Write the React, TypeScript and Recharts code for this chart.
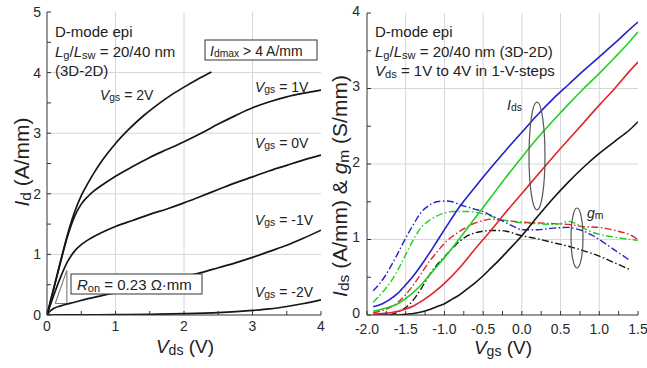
import React from 'react';
import { LineChart, Line, XAxis, YAxis, ReferenceLine } from 'recharts';

const FONT = '"Liberation Sans", Arial, Helvetica, sans-serif';
const INK = '#222';
const GRID = '#d6d6d6';

// ---------- Left panel: Id vs Vds ----------
const vdsTicks = [0, 0.5, 1, 1.5, 2, 2.5, 3, 3.5, 4];
const vdsGrid = [1, 2, 3];
const idTicks = [0, 0.5, 1, 1.5, 2, 2.5, 3, 3.5, 4, 4.5, 5];
const idGrid = [1, 2, 3, 4];

const idVgs2: [number, number][] = [
  [0, 0], [0.1, 0.45], [0.2, 0.9], [0.3, 1.33], [0.4, 1.69], [0.5, 1.97], [0.6, 2.18], [0.7, 2.37],
  [0.8, 2.54], [1.0, 2.83], [1.2, 3.07], [1.4, 3.28], [1.6, 3.46], [1.8, 3.62], [2.0, 3.76], [2.2, 3.89], [2.4, 4.01],
];
const idVgs1: [number, number][] = [
  [0, 0], [0.1, 0.44], [0.2, 0.88], [0.3, 1.3], [0.4, 1.62], [0.5, 1.83], [0.6, 1.96], [0.7, 2.06], [0.8, 2.14],
  [1.0, 2.29], [1.25, 2.45], [1.5, 2.6], [1.75, 2.73], [2.0, 2.86], [2.25, 3.0], [2.5, 3.15], [2.75, 3.29],
  [3.0, 3.42], [3.25, 3.52], [3.5, 3.6], [3.75, 3.66], [4.0, 3.71],
];
const idVgs0: [number, number][] = [
  [0, 0], [0.1, 0.33], [0.2, 0.63], [0.3, 0.88], [0.4, 1.05], [0.5, 1.16], [0.6, 1.24], [0.8, 1.36],
  [1.0, 1.46], [1.25, 1.56], [1.5, 1.66], [1.75, 1.75], [2.0, 1.85], [2.25, 1.96], [2.5, 2.07], [2.75, 2.18],
  [3.0, 2.28], [3.25, 2.38], [3.5, 2.47], [3.75, 2.56], [4.0, 2.64],
];
const idVgsM1: [number, number][] = [
  [0, 0], [0.05, 0.07], [0.1, 0.11], [0.2, 0.15], [0.4, 0.21], [0.6, 0.27], [0.8, 0.32], [1.0, 0.37],
  [1.25, 0.43], [1.5, 0.49], [1.75, 0.56], [2.0, 0.63], [2.25, 0.7], [2.5, 0.78], [2.75, 0.86], [3.0, 0.95],
  [3.25, 1.05], [3.5, 1.15], [3.75, 1.27], [4.0, 1.4],
];
const idVgsM2: [number, number][] = [
  [0, 0], [0.5, 0.003], [1, 0.006], [1.5, 0.012], [2, 0.022], [2.5, 0.04], [3, 0.075], [3.25, 0.1],
  [3.5, 0.14], [3.75, 0.19], [4, 0.25],
];
const ronTriangle: [number, number][] = [[0.12, 0.19], [0.29, 0.74], [0.29, 0.19], [0.12, 0.19]];

// ---------- Right panel: Ids & gm vs Vgs ----------
const vgsTicks = [-2, -1.75, -1.5, -1.25, -1, -0.75, -0.5, -0.25, 0, 0.25, 0.5, 0.75, 1, 1.25, 1.5];
const vgsGrid = [-1.5, -1, -0.5, 0, 0.5, 1];
const idsTicks = [0, 0.5, 1, 1.5, 2, 2.5, 3, 3.5, 4];
const idsGrid = [1, 2, 3];

const idsVds1: [number, number][] = [
  [-1.92, 0], [-1.7, 0], [-1.6, 0.0], [-1.5, 0.01], [-1.4, 0.02], [-1.3, 0.04], [-1.2, 0.07], [-1.1, 0.11],
  [-1.0, 0.15], [-0.9, 0.21], [-0.8, 0.27], [-0.7, 0.35], [-0.6, 0.43], [-0.5, 0.52], [-0.4, 0.62], [-0.3, 0.72],
  [-0.2, 0.83], [0, 1.05], [0.2, 1.3], [0.4, 1.54], [0.6, 1.76], [0.8, 1.96], [1.0, 2.14], [1.2, 2.3],
  [1.4, 2.46], [1.5, 2.56],
];
const idsVds2: [number, number][] = [
  [-1.92, 0.01], [-1.8, 0.02], [-1.7, 0.03], [-1.6, 0.05], [-1.5, 0.08], [-1.4, 0.12], [-1.3, 0.18],
  [-1.2, 0.25], [-1.1, 0.33], [-1.0, 0.42], [-0.8, 0.63], [-0.6, 0.88], [-0.4, 1.12], [-0.2, 1.37], [0, 1.61],
  [0.2, 1.85], [0.4, 2.09], [0.6, 2.32], [0.8, 2.55], [1.0, 2.78], [1.2, 3.0], [1.4, 3.24], [1.5, 3.35],
];
const idsVds3: [number, number][] = [
  [-1.92, 0.05], [-1.8, 0.08], [-1.7, 0.11], [-1.6, 0.15], [-1.5, 0.22], [-1.4, 0.3], [-1.3, 0.4],
  [-1.2, 0.52], [-1.1, 0.64], [-1.0, 0.76], [-0.8, 1.02], [-0.6, 1.29], [-0.4, 1.56], [-0.2, 1.83], [0, 2.09],
  [0.2, 2.34], [0.4, 2.57], [0.6, 2.79], [0.8, 3.0], [1.0, 3.2], [1.2, 3.41], [1.4, 3.63], [1.5, 3.75],
];
const idsVds4: [number, number][] = [
  [-1.92, 0.11], [-1.8, 0.15], [-1.7, 0.21], [-1.6, 0.29], [-1.5, 0.4], [-1.4, 0.52], [-1.3, 0.66],
  [-1.2, 0.81], [-1.1, 0.97], [-1.0, 1.13], [-0.8, 1.44], [-0.6, 1.7], [-0.4, 1.95], [-0.2, 2.19], [0, 2.42],
  [0.2, 2.65], [0.4, 2.86], [0.6, 3.05], [0.8, 3.24], [1.0, 3.42], [1.2, 3.6], [1.4, 3.79], [1.5, 3.88],
];
const gmVds1: [number, number][] = [
  [-1.7, 0.0], [-1.6, 0.04], [-1.5, 0.1], [-1.4, 0.2], [-1.3, 0.35], [-1.2, 0.52], [-1.1, 0.66], [-1.0, 0.77],
  [-0.9, 0.88], [-0.8, 0.98], [-0.7, 1.05], [-0.6, 1.09], [-0.5, 1.11], [-0.4, 1.12], [-0.3, 1.12], [-0.2, 1.11],
  [-0.1, 1.08], [0, 1.05], [0.2, 1.01], [0.4, 0.96], [0.6, 0.91], [0.8, 0.85], [1.0, 0.78], [1.2, 0.69], [1.4, 0.6],
];
const gmVds2: [number, number][] = [
  [-1.92, 0.03], [-1.8, 0.06], [-1.7, 0.1], [-1.6, 0.17], [-1.5, 0.27], [-1.4, 0.4], [-1.3, 0.55], [-1.2, 0.7],
  [-1.1, 0.83], [-1.0, 0.95], [-0.9, 1.04], [-0.8, 1.11], [-0.7, 1.17], [-0.6, 1.22], [-0.5, 1.25], [-0.4, 1.27],
  [-0.3, 1.26], [-0.2, 1.25], [0, 1.23], [0.2, 1.22], [0.4, 1.21], [0.6, 1.2], [0.8, 1.17], [1.0, 1.16],
  [1.2, 1.12], [1.4, 1.06], [1.5, 1.0],
];
const gmVds3: [number, number][] = [
  [-1.92, 0.17], [-1.8, 0.3], [-1.7, 0.43], [-1.6, 0.6], [-1.5, 0.8], [-1.4, 1.0], [-1.3, 1.16], [-1.2, 1.25],
  [-1.1, 1.31], [-1.0, 1.35], [-0.9, 1.37], [-0.8, 1.37], [-0.7, 1.37], [-0.6, 1.36], [-0.5, 1.34], [-0.4, 1.31],
  [-0.3, 1.27], [-0.2, 1.25], [0, 1.22], [0.2, 1.21], [0.4, 1.2], [0.5, 1.21], [0.6, 1.24], [0.7, 1.21],
  [0.8, 1.15], [0.9, 1.1], [1.0, 1.07], [1.2, 1.03], [1.4, 1.0], [1.5, 0.99],
];
const gmVds4: [number, number][] = [
  [-1.92, 0.32], [-1.85, 0.4], [-1.77, 0.51], [-1.7, 0.63], [-1.6, 0.82], [-1.5, 1.02], [-1.4, 1.2],
  [-1.3, 1.36], [-1.2, 1.45], [-1.1, 1.5], [-1.0, 1.51], [-0.9, 1.5], [-0.8, 1.46], [-0.7, 1.43], [-0.6, 1.4],
  [-0.5, 1.37], [-0.4, 1.32], [-0.3, 1.27], [-0.2, 1.22], [-0.1, 1.17], [0, 1.13], [0.2, 1.13], [0.4, 1.15],
  [0.6, 1.16], [0.7, 1.14], [0.8, 1.11], [0.9, 1.06], [1.0, 1.0], [1.1, 0.93], [1.2, 0.86], [1.3, 0.79], [1.4, 0.72],
];

const BLACK = '#151515';
const RED = '#e2222a';
const GREEN = '#22d022';
const BLUE = '#2323c8';
const DASHDOT = '7 2.5 1.5 2.5';

const toXY = (arr: [number, number][]) => arr.map(([x, y]) => ({ x, y }));

const tickStyle = { fill: '#2a2a2a', fontSize: 14, fontFamily: FONT };
const axisStroke = { stroke: '#333', strokeWidth: 1 };

const fmtInt = (v: number) => (Math.abs(v - Math.round(v)) < 1e-6 ? String(Math.round(v)) : '');
const fmtHalf = (v: number) =>
  Math.abs(v * 2 - Math.round(v * 2)) < 1e-6 ? (Math.abs(v) < 1e-9 ? '0.0' : v.toFixed(1)) : '';

type Seg = [string, 'i' | 's' | 'n'];
function Rich({ x, y, size, segs, anchor = 'start', rot = false }: {
  x: number; y: number; size: number; segs: Seg[]; anchor?: 'start' | 'middle' | 'end'; rot?: boolean;
}) {
  const off = size * 0.1;
  let prevSub = false;
  return (
    <text
      x={x}
      y={y}
      fontSize={size}
      fontFamily={FONT}
      fill={INK}
      textAnchor={anchor}
      style={{ whiteSpace: 'pre' }}
      transform={rot ? `rotate(-90 ${x} ${y})` : undefined}
    >
      {segs.map(([t, k], idx) => {
        const sub = k === 's';
        const dy = (sub ? off : 0) - (prevSub ? off : 0);
        prevSub = sub;
        return (
          <tspan key={idx} fontStyle={k === 'i' ? 'italic' : 'normal'} fontSize={sub ? size * 0.74 : size} dy={dy}>
            {t}
          </tspan>
        );
      })}
    </text>
  );
}

function LeftChart() {
  const series: { d: [number, number][]; k: string }[] = [
    { d: idVgs2, k: 'v2' }, { d: idVgs1, k: 'v1' }, { d: idVgs0, k: 'v0' }, { d: idVgsM1, k: 'vm1' }, { d: idVgsM2, k: 'vm2' },
  ];
  return (
    <LineChart width={330} height={368} margin={{ top: 12, right: 9, bottom: 0, left: 0 }}>
      <XAxis xAxisId="b" orientation="bottom" type="number" dataKey="x" domain={[0, 4]} ticks={vdsTicks}
        interval={0} allowDataOverflow height={53} tickSize={-4} tickMargin={10} tickFormatter={fmtInt}
        axisLine={axisStroke} tickLine={axisStroke} tick={tickStyle} />
      <XAxis xAxisId="t" orientation="top" type="number" dataKey="x" domain={[0, 4]} ticks={vdsTicks}
        interval={0} allowDataOverflow height={0} tickSize={-4} tick={false}
        axisLine={axisStroke} tickLine={axisStroke} />
      <YAxis yAxisId="l" orientation="left" type="number" domain={[0, 5]} ticks={idTicks} interval={0}
        allowDataOverflow width={47} tickSize={-4} tickMargin={10} tickFormatter={fmtInt}
        axisLine={axisStroke} tickLine={axisStroke} tick={tickStyle} />
      <YAxis yAxisId="r" orientation="right" type="number" domain={[0, 5]} ticks={idTicks} interval={0}
        allowDataOverflow width={0} tickSize={-4} tick={false} axisLine={axisStroke} tickLine={axisStroke} />
      {vdsGrid.map((v) => (
        <ReferenceLine key={'gx' + v} xAxisId="b" yAxisId="l" x={v} stroke={GRID} strokeWidth={1} />
      ))}
      {idGrid.map((v) => (
        <ReferenceLine key={'gy' + v} xAxisId="b" yAxisId="l" y={v} stroke={GRID} strokeWidth={1} />
      ))}
      <Line xAxisId="b" yAxisId="l" data={toXY(ronTriangle)} dataKey="y" type="linear" dot={false}
        stroke="#7a7a7a" strokeWidth={1.1} isAnimationActive={false} />
      {series.map((s) => (
        <Line key={s.k} xAxisId="b" yAxisId="l" data={toXY(s.d)} dataKey="y" type="monotone" dot={false}
          stroke={BLACK} strokeWidth={1.7} isAnimationActive={false} />
      ))}
    </LineChart>
  );
}

function RightChart() {
  const ids = [
    { d: idsVds1, c: BLACK }, { d: idsVds2, c: RED }, { d: idsVds3, c: GREEN }, { d: idsVds4, c: BLUE },
  ];
  const gms = [
    { d: gmVds1, c: BLACK }, { d: gmVds2, c: RED }, { d: gmVds3, c: GREEN }, { d: gmVds4, c: BLUE },
  ];
  return (
    <LineChart width={327} height={368} margin={{ top: 13, right: 9, bottom: 0, left: 0 }}>
      <XAxis xAxisId="b" orientation="bottom" type="number" dataKey="x" domain={[-2, 1.5]} ticks={vgsTicks}
        interval={0} allowDataOverflow height={53} tickSize={-4} tickMargin={13} tickFormatter={fmtHalf}
        axisLine={axisStroke} tickLine={axisStroke} tick={tickStyle} />
      <XAxis xAxisId="t" orientation="top" type="number" dataKey="x" domain={[-2, 1.5]} ticks={vgsTicks}
        interval={0} allowDataOverflow height={0} tickSize={-4} tick={false}
        axisLine={axisStroke} tickLine={axisStroke} />
      <YAxis yAxisId="l" orientation="left" type="number" domain={[0, 4]} ticks={idsTicks} interval={0}
        allowDataOverflow width={47} tickSize={-4} tickMargin={11} tickFormatter={fmtInt}
        axisLine={axisStroke} tickLine={axisStroke} tick={{ ...tickStyle, dy: -2 }} />
      <YAxis yAxisId="r" orientation="right" type="number" domain={[0, 4]} ticks={idsTicks} interval={0}
        allowDataOverflow width={0} tickSize={-4} tick={false} axisLine={axisStroke} tickLine={axisStroke} />
      {vgsGrid.map((v) => (
        <ReferenceLine key={'gx' + v} xAxisId="b" yAxisId="l" x={v} stroke={GRID} strokeWidth={1} />
      ))}
      {idsGrid.map((v) => (
        <ReferenceLine key={'gy' + v} xAxisId="b" yAxisId="l" y={v} stroke={GRID} strokeWidth={1} />
      ))}
      {gms.map((s, i) => (
        <Line key={'gm' + i} xAxisId="b" yAxisId="l" data={toXY(s.d)} dataKey="y" type="monotone" dot={false}
          stroke={s.c} strokeWidth={1.4} strokeDasharray={DASHDOT} isAnimationActive={false} />
      ))}
      {ids.map((s, i) => (
        <Line key={'ids' + i} xAxisId="b" yAxisId="l" data={toXY(s.d)} dataKey="y" type="monotone" dot={false}
          stroke={s.c} strokeWidth={1.6} isAnimationActive={false} />
      ))}
    </LineChart>
  );
}

function Overlay() {
  const T = 15;
  const S = 14;
  return (
    <svg width={647} height={368} style={{ position: 'absolute', left: 0, top: 0, pointerEvents: 'none' }}>
      {/* left panel notes */}
      <Rich x={55} y={37} size={T} segs={[['D-mode epi', 'n']]} />
      <Rich x={55} y={57} size={T} segs={[['L', 'i'], ['g', 's'], ['/', 'n'], ['L', 'i'], ['sw', 's'], [' = 20/40 nm', 'n']]} />
      <Rich x={55} y={76} size={T} segs={[['(3D-2D)', 'n']]} />
      <rect x={205} y={40} width={112} height={20} fill="#fff" stroke="#333" strokeWidth={1} />
      <Rich x={210} y={56} size={S} segs={[['I', 'i'], ['dmax', 's'], [' > 4 A/mm', 'n']]} />
      <Rich x={100} y={100} size={S} segs={[['V', 'i'], ['gs', 's'], [' = 2V', 'n']]} />
      <Rich x={255} y={92} size={S} segs={[['V', 'i'], ['gs', 's'], [' = 1V', 'n']]} />
      <Rich x={255} y={148} size={S} segs={[['V', 'i'], ['gs', 's'], [' = 0V', 'n']]} />
      <Rich x={255} y={225} size={S} segs={[['V', 'i'], ['gs', 's'], [' = -1V', 'n']]} />
      <Rich x={255} y={297} size={S} segs={[['V', 'i'], ['gs', 's'], [' = -2V', 'n']]} />
      <rect x={71} y={274} width={131} height={20} fill="#fff" stroke="#333" strokeWidth={1} />
      <Rich x={77} y={290} size={T} segs={[['R', 'i'], ['on', 's'], [' = 0.23 Ω·mm', 'n']]} />
      <Rich x={185} y={353} size={19} anchor="middle" segs={[['V', 'i'], ['ds', 's'], [' (V)', 'n']]} />
      <Rich x={29} y={162} size={21} anchor="middle" rot segs={[['I', 'i'], ['d', 's'], [' (A/mm)', 'n']]} />

      {/* right panel notes */}
      <Rich x={375} y={37} size={T} segs={[['D-mode epi', 'n']]} />
      <Rich x={375} y={57} size={T} segs={[['L', 'i'], ['g', 's'], ['/', 'n'], ['L', 'i'], ['sw', 's'], [' = 20/40 nm (3D-2D)', 'n']]} />
      <Rich x={375} y={76} size={T} segs={[['V', 'i'], ['ds', 's'], [' = 1V to 4V in 1-V-steps', 'n']]} />
      <Rich x={507} y={110} size={S} segs={[['I', 'i'], ['ds', 's']]} />
      <ellipse cx={537} cy={156} rx={8} ry={54} fill="none" stroke="#555" strokeWidth={1.2} />
      <Rich x={587} y={218} size={S} segs={[['g', 'i'], ['m', 's']]} />
      <ellipse cx={577} cy={238} rx={6} ry={30} fill="none" stroke="#555" strokeWidth={1.2} />
      <Rich x={503} y={354} size={19} anchor="middle" segs={[['V', 'i'], ['gs', 's'], [' (V)', 'n']]} />
      <Rich x={347} y={186} size={21} anchor="middle" rot
        segs={[['I', 'i'], ['ds', 's'], [' (A/mm) & ', 'n'], ['g', 'i'], ['m', 's'], [' (S/mm)', 'n']]} />
    </svg>
  );
}

export default function App() {
  return (
    <div style={{ position: 'absolute', left: 0, top: 0, width: 647, height: 368, background: '#fff', overflow: 'hidden' }}>
      <div style={{ position: 'absolute', left: 0, top: 0 }}>
        <LeftChart />
      </div>
      <div style={{ position: 'absolute', left: 320, top: 0 }}>
        <RightChart />
      </div>
      <Overlay />
    </div>
  );
}
